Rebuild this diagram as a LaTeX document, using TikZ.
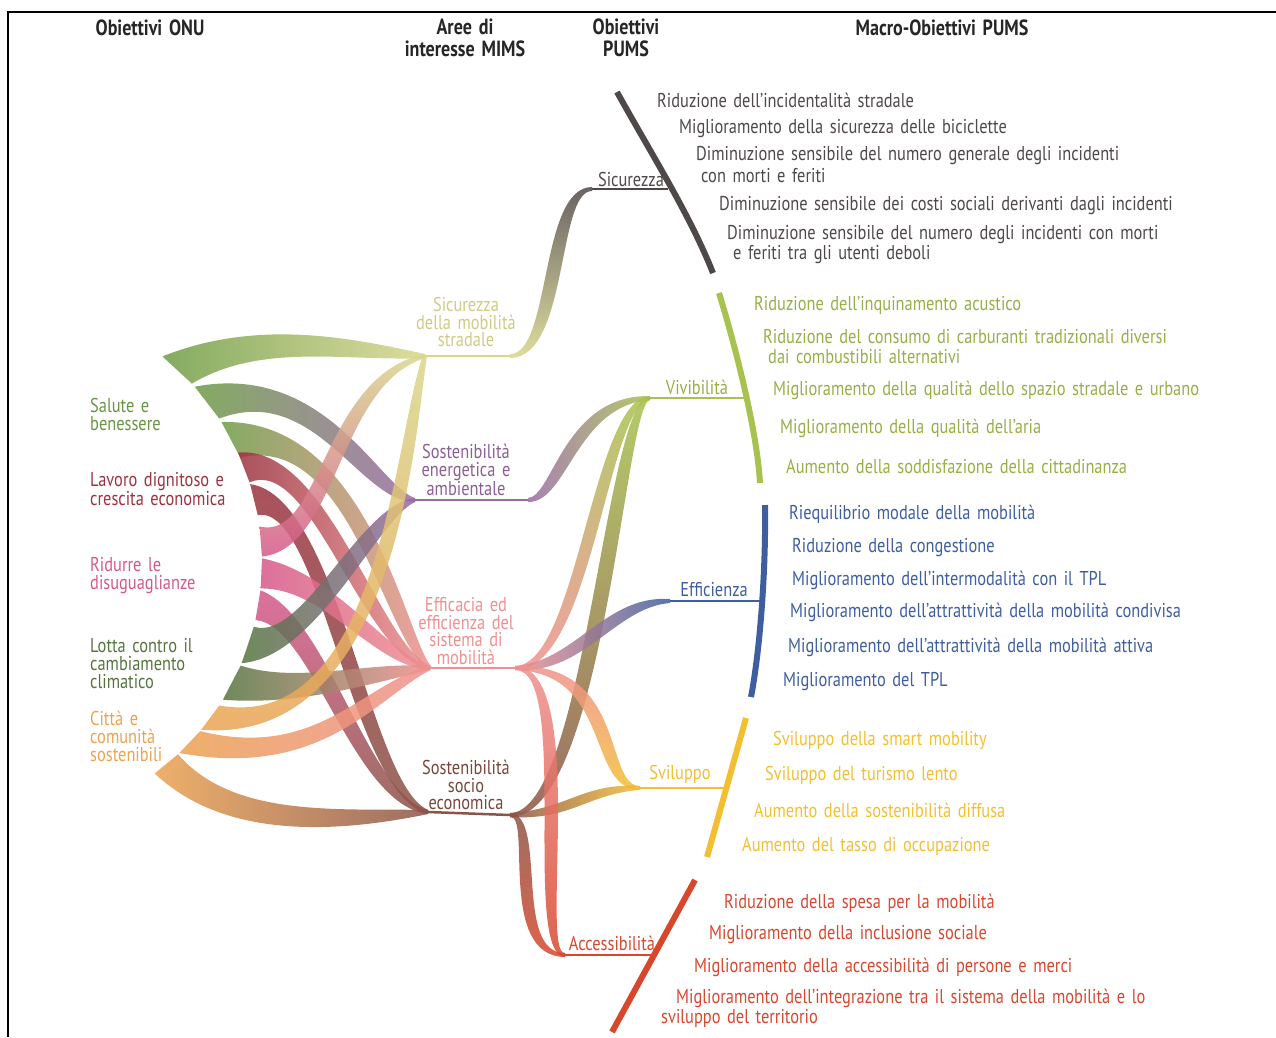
\documentclass[tikz,border=0pt]{standalone}
\usepackage{fontspec}
\setmainfont{PT Sans}[FakeStretch=0.82,WordSpace=1.5]
\usetikzlibrary{calc}

\definecolor{salute}{HTML}{6E9C46}
\definecolor{lavoro}{HTML}{9B3340}
\definecolor{ridurre}{HTML}{D6588A}
\definecolor{lotta}{HTML}{55753F}
\definecolor{citta}{HTML}{EBA251}
\definecolor{sicstr}{HTML}{D8D78C}
\definecolor{energ}{HTML}{9A6AA5}
\definecolor{effic}{HTML}{EF9090}
\definecolor{socio}{HTML}{8B5447}
\definecolor{sicur}{HTML}{4F4848}
\definecolor{vivib}{HTML}{A7C24F}
\definecolor{effcz}{HTML}{3E5E9F}
\definecolor{svil}{HTML}{F3BE32}
\definecolor{acces}{HTML}{D8472C}

% ribbon leaving the arc of the ONU goals: style, angle, half angle, c1, c2, end, mid half width, end half width
\newcommand\onuband[8]{%
  \coordinate (ba) at ($(O)+(#2:262)$);
  \shade[#1] ($(O)+({#2-#3}:262)$)
    .. controls ($#4+($(ba)!#7!90:#5$)-(ba)$) and ($#5+($#4!#7!90:#6$)-#4$)
    .. ($#6!#8!-90:#5$) -- ($#6!#8!90:#5$)
    .. controls ($#5+($#4!#7!-90:#6$)-#4$) and ($#4+($(ba)!#7!-90:#5$)-(ba)$)
    .. ($(O)+({#2+#3}:262)$) -- cycle;}
% ribbon between two hubs: style, start, c1, c2, end, start half width, mid half width, end half width
\newcommand\flowband[8]{%
  \shade[#1] ($#2!#6!90:#3$)
    .. controls ($#3+($#2!#7!90:#4$)-#2$) and ($#4+($#3!#7!90:#5$)-#3$)
    .. ($#5!#8!-90:#4$) -- ($#5!#8!90:#4$)
    .. controls ($#4+($#3!#7!-90:#5$)-#3$) and ($#3+($#2!#7!-90:#4$)-#2$)
    .. ($#2!#6!-90:#3$) -- cycle;}

\tikzset{
  flow/.style={fill opacity=0.85},
  hub/.style={line width=2.5pt},
  bar/.style={line width=6pt},
  head/.style={font=\bfseries\fontsize{22}{22}\selectfont, text=black!85, align=center, inner sep=0},
  onu/.style={font=\fontsize{20}{18}\selectfont, align=left, anchor=west, inner sep=0},
  mims/.style={font=\fontsize{20}{17.5}\selectfont, align=center, inner sep=0},
  pums/.style={font=\fontsize{20}{17}\selectfont, inner sep=0},
  item/.style={font=\fontsize{20}{16}\selectfont, anchor=west, inner sep=0},
}

\begin{document}
\begin{tikzpicture}[x=1pt,y=-1pt]
  \useasboundingbox (0,0) rectangle (1276,1037);
  \draw[line width=2pt] (1276,12) -- (8,12) -- (8,1037);

  % hubs
  \coordinate (O) at (0,562);
  \coordinate (hS) at (425,356);  \coordinate (hSo) at (510,356);
  \coordinate (hE) at (415,500);  \coordinate (hEo) at (528,500);
  \coordinate (hF) at (430,668);  \coordinate (hFo) at (515,668);
  \coordinate (hP) at (428,812);  \coordinate (hPo) at (510,815);
  \coordinate (jSic) at (592,189); \coordinate (bSic) at (668,189);
  \coordinate (jViv) at (650,398); \coordinate (bViv) at (745,398);
  \coordinate (jEff) at (670,601); \coordinate (bEff) at (762,601);
  \coordinate (jSvi) at (640,788); \coordinate (bSvi) at (727,788);
  \coordinate (jAcc) at (565,955); \coordinate (bAcc) at (655,955);

  % ONU -> MIMS
  \onuband{flow, left color=salute, right color=sicstr}{-47.3}{4.4}{(260,330)}{(350,350)}{(hS)}{12pt}{2pt}
  \onuband{flow, left color=salute, right color=energ}{-37.6}{4.4}{(320,372)}{(370,495)}{(hE)}{12pt}{2pt}
  \onuband{flow, left color=salute, right color=effic}{-27.9}{4.4}{(360,425)}{(395,640)}{(hF)}{11pt}{2pt}
  \onuband{flow, left color=lavoro, right color=effic}{-21.2}{3.5}{(320,450)}{(370,650)}{(hF)}{10pt}{2pt}
  \onuband{flow, top color=lavoro, bottom color=socio}{-13.8}{3.5}{(330,500)}{(360,790)}{(hP)}{10pt}{2pt}
  \onuband{flow, bottom color=ridurre, top color=sicstr}{-4.5}{3.3}{(330,545)}{(330,380)}{(hS)}{9pt}{2pt}
  \onuband{flow, left color=ridurre, right color=effic}{2.5}{3.3}{(330,580)}{(380,660)}{(hF)}{9pt}{2pt}
  \onuband{flow, top color=ridurre, bottom color=socio}{9.5}{3.3}{(320,620)}{(360,800)}{(hP)}{9pt}{2pt}
  \onuband{flow, left color=lotta, right color=energ}{18.5}{4.2}{(310,650)}{(370,510)}{(hE)}{11pt}{2pt}
  \onuband{flow, left color=lotta, right color=effic}{27.5}{4.2}{(300,695)}{(370,672)}{(hF)}{11pt}{2pt}
  \onuband{flow, bottom color=citta, top color=sicstr}{36.5}{3.3}{(390,740)}{(405,430)}{(hS)}{10pt}{2pt}
  \onuband{flow, left color=citta, right color=effic}{43.5}{3.3}{(320,770)}{(370,690)}{(hF)}{10pt}{2pt}
  \onuband{flow, left color=citta, right color=socio}{50.5}{3.3}{(230,830)}{(340,820)}{(hP)}{12pt}{2pt}

  % MIMS -> PUMS
  \flowband{flow, bottom color=sicstr, top color=sicur}{(hSo)}{(560,356)}{(548,189)}{(jSic)}{2pt}{9pt}{2pt}
  \flowband{flow, left color=energ, right color=vivib}{(hEo)}{(560,500)}{(570,400)}{(jViv)}{2pt}{8pt}{2pt}
  \flowband{flow, bottom color=effic, top color=vivib}{(hFo)}{(585,668)}{(600,400)}{(jViv)}{2pt}{8pt}{2pt}
  \flowband{flow, bottom color=socio, top color=vivib}{(hPo)}{(595,815)}{(615,400)}{(jViv)}{2pt}{10pt}{2pt}
  \flowband{flow, left color=effic, right color=effcz}{(hFo)}{(580,668)}{(610,601)}{(jEff)}{2pt}{8pt}{2pt}
  \flowband{flow, top color=effic, bottom color=svil}{(hFo)}{(620,668)}{(595,788)}{(jSvi)}{2pt}{9pt}{2pt}
  \flowband{flow, left color=socio, right color=svil}{(hPo)}{(570,815)}{(585,788)}{(jSvi)}{2pt}{6pt}{2pt}
  \flowband{flow, top color=effic, bottom color=acces}{(hFo)}{(580,668)}{(530,955)}{(jAcc)}{2pt}{9pt}{2pt}
  \flowband{flow, top color=socio, bottom color=acces}{(hPo)}{(540,815)}{(505,955)}{(jAcc)}{2pt}{8pt}{2pt}

  % hub lines
  \draw[hub, sicstr] (hS) -- (hSo);
  \draw[hub, energ] (hE) -- (hEo);
  \draw[hub, effic] (hF) -- (hFo);
  \draw[hub, socio] (hP) -- (hPo);
  \draw[hub, sicur] (jSic) -- (bSic);
  \draw[hub, vivib] (jViv) -- (bViv);
  \draw[hub, effcz] (jEff) -- (bEff);
  \draw[hub, svil] (jSvi) -- (bSvi);
  \draw[hub, acces] (jAcc) -- (bAcc);

  % PUMS bars
  \draw[bar, sicur] (617,92) .. controls (652,155) and (690,215) .. (713,273);
  \draw[bar, vivib] (719,293) .. controls (735,345) and (757,430) .. (760,483);
  \draw[bar, effcz] (765,505) .. controls (766,570) and (760,650) .. (751,697);
  \draw[bar, svil] (746,718) -- (707,857);
  \draw[bar, acces] (695,880) -- (612,1032);

  % headers
  \node[head] (hOnu) at (150,28) {Obiettivi ONU};
  \node[head] (hMims) at (465,38) {Aree di\\interesse MIMS};
  \node[head] (hPums) at (626,38) {Obiettivi\\PUMS};
  \node[head] (hMacro) at (942,28) {Macro-Obiettivi PUMS};

  % ONU goals
  \node[onu, text=salute!95!black] (tSal) at (90,414) {Salute e\\benessere};
  \node[onu, text=lavoro] (tLav) at (90,489) {Lavoro dignitoso e\\crescita economica};
  \node[onu, text=ridurre] (tRid) at (90,576) {Ridurre le\\disuguaglianze};
  \node[onu, text=lotta] (tLot) at (90,664) {Lotta contro il\\cambiamento\\climatico};
  \node[onu, text=citta] (tCit) at (90,736) {Città e\\comunità\\sostenibili};

  % MIMS areas
  \node[mims, text=sicstr!95!black] (tSic) at (466,322) {Sicurezza\\della mobilità\\stradale};
  \node[mims, text=energ!90!black] (tEne) at (466,470) {Sostenibilità\\energetica e\\ambientale};
  \node[mims, text=effic] (tEff) at (466,631) {Efficacia ed\\efficienza del\\sistema di\\mobilità};
  \node[mims, text=socio!85!black] (tSoc) at (466,785) {Sostenibilità\\socio\\economica};

  % PUMS goals
  \node[pums, text=sicur] (pSic) at (631,179) {Sicurezza};
  \node[pums, text=vivib!90!black] (pViv) at (697,387) {Vivibilità};
  \node[pums, text=effcz] (pEff) at (714,590) {Efficienza};
  \node[pums, text=svil] (pSvi) at (680,774) {Sviluppo};
  \node[pums, text=acces] (pAcc) at (612,943) {Accessibilità};

  % macro goals
  \begin{scope}[every node/.style={item, text=sicur}]
    \node (m11) at (657,100) {Riduzione dell’incidentalità stradale};
    \node (m12) at (679,129) {Miglioramento della sicurezza delle biciclette};
    \node (m13) at (696,156) {Diminuzione sensibile del numero generale degli incidenti};
    \node (m13b) at (701,176) {con morti e feriti};
    \node (m14) at (719,206) {Diminuzione sensibile dei costi sociali derivanti dagli incidenti};
    \node (m15) at (727,235) {Diminuzione sensibile del numero degli incidenti con morti};
    \node (m15b) at (733,255) {e feriti tra gli utenti deboli};
  \end{scope}
  \begin{scope}[every node/.style={item, text=vivib!90!black}]
    \node (m21) at (754,305) {Riduzione dell’inquinamento acustico};
    \node (m22) at (763,337) {Riduzione del consumo di carburanti tradizionali diversi};
    \node (m22b) at (768,357) {dai combustibili alternativi};
    \node (m23) at (773,390) {Miglioramento della qualità dello spazio stradale e urbano};
    \node (m24) at (780,428) {Miglioramento della qualità dell’aria};
    \node (m25) at (786,466) {Aumento della soddisfazione della cittadinanza};
  \end{scope}
  \begin{scope}[every node/.style={item, text=effcz}]
    \node (m31) at (789,514) {Riequilibrio modale della mobilità};
    \node (m32) at (792,548) {Riduzione della congestione};
    \node (m33) at (792,580) {Miglioramento dell’intermodalità con il TPL};
    \node (m34) at (790,612) {Miglioramento dell’attrattività della mobilità condivisa};
    \node (m35) at (788,647) {Miglioramento dell’attrattività della mobilità attiva};
    \node (m36) at (783,682) {Miglioramento del TPL};
  \end{scope}
  \begin{scope}[every node/.style={item, text=svil}]
    \node (m41) at (773,740) {Sviluppo della smart mobility};
    \node (m42) at (765,775) {Sviluppo del turismo lento};
    \node (m43) at (754,810) {Aumento della sostenibilità diffusa};
    \node (m44) at (742,846) {Aumento del tasso di occupazione};
  \end{scope}
  \begin{scope}[every node/.style={item, text=acces}]
    \node (m51) at (724,903) {Riduzione della spesa per la mobilità};
    \node (m52) at (709,935) {Miglioramento della inclusione sociale};
    \node (m53) at (694,967) {Miglioramento della accessibilità di persone e merci};
    \node (m54) at (676,998) {Miglioramento dell’integrazione tra il sistema della mobilità e lo};
    \node (m54b) at (661,1018) {sviluppo del territorio};
  \end{scope}
\end{tikzpicture}
\end{document}
